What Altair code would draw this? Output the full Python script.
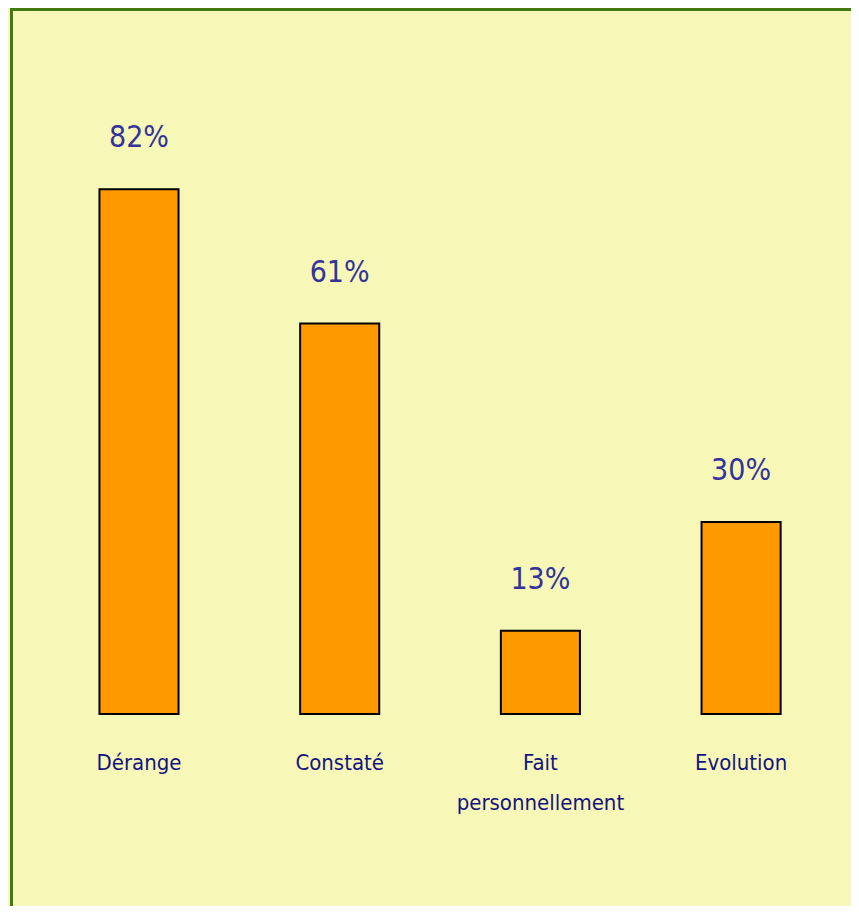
import altair as alt
import pandas as pd

categories = ["Dérange", "Constaté", "Fait\npersonnellement", "Evolution"]
values = [82, 61, 13, 30]
labels = ["82%", "61%", "13%", "30%"]

df = pd.DataFrame({"cat": categories, "val": values, "lab": labels})

FONT = "Liberation Sans Narrow, DejaVu Sans Condensed, sans-serif"
W, H = 843, 898

x = alt.X("cat:N", sort=categories, axis=None,
          scale=alt.Scale(range=[30.65, 833.45], paddingInner=0.606, paddingOuter=0.303))
y_scale = alt.Scale(domain=[-30.0, 110.31], nice=False, zero=False)

base = alt.Chart(df)

bars = base.mark_bar(color="#FF9900", stroke="#000000", strokeWidth=2).encode(
    x=x,
    y=alt.Y("val:Q", scale=y_scale, axis=None),
    y2=alt.datum(0),
)

pct = base.mark_text(font=FONT, fontSize=30, color="#333399", baseline="middle", dy=-51).encode(
    x=x,
    y=alt.Y("val:Q", scale=y_scale, axis=None),
    text="lab:N",
)

cats = base.mark_text(font=FONT, fontSize=22, color="#141480", baseline="middle",
                      lineBreak="\n", lineHeight=40).encode(
    x=x,
    y=alt.datum(-7.65),
    text="cat:N",
)

top_border = alt.Chart(df).mark_rule(color="#3F7A12", strokeWidth=3).encode(
    x=alt.value(3), x2=alt.value(W), y=alt.value(1.5)
)
left_border = alt.Chart(df).mark_rule(color="#3F7A12", strokeWidth=3).encode(
    x=alt.value(3.5), y=alt.value(0), y2=alt.value(H)
)

chart = alt.layer(bars, pct, cats, top_border, left_border).properties(
    width=W, height=H, background="#F7F7B8", padding=0,
    autosize=alt.AutoSizeParams(type="none"),
).configure_view(stroke=None)

chart.save("out.html", embed_options={"renderer": "svg", "actions": False})
